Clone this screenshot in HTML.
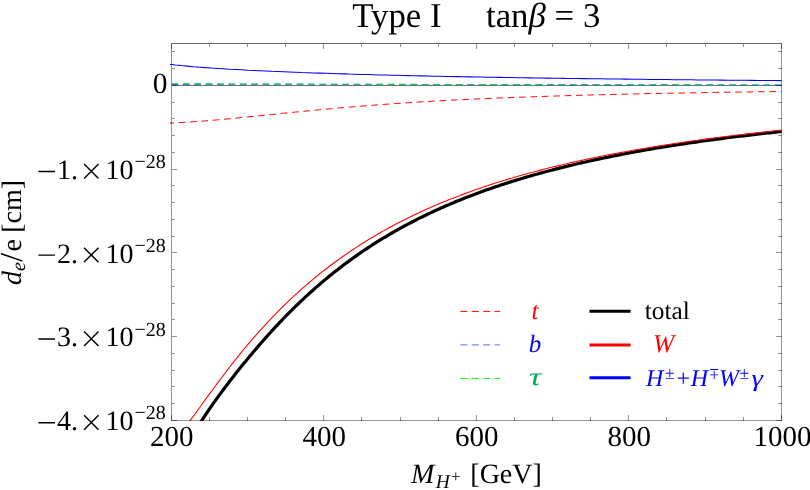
<!DOCTYPE html>
<html><head><meta charset="utf-8"><title>chart</title><style>html,body{margin:0;padding:0;background:#fff}body{width:810px;height:490px;overflow:hidden}svg{will-change:transform;opacity:0.999}text{text-rendering:geometricPrecision}</style></head><body>
<svg width="810" height="490" viewBox="0 0 810 490" style="display:block;font-family:'Liberation Serif',serif">
<rect width="810" height="490" fill="#fff"/>
<defs><clipPath id="c"><rect x="169.9" y="43.5" width="612.1" height="377.4"/></clipPath></defs>
<g stroke="#000" stroke-opacity="0.55" stroke-width="1" fill="none" shape-rendering="crispEdges">
<line x1="171.5" y1="85.5" x2="781.5" y2="85.5"/>
</g>
<g clip-path="url(#c)" fill="none" stroke-linejoin="bevel">
<path d="M169.5,123.15 L175.5,122.78 L181.5,122.44 L187.5,122.10 L193.5,121.72 L199.5,121.31 L205.5,120.86 L211.5,120.38 L217.5,119.86 L223.5,119.31 L229.5,118.74 L235.5,118.16 L241.5,117.56 L247.5,116.95 L253.5,116.33 L259.5,115.72 L265.5,115.10 L271.5,114.48 L277.5,113.87 L283.5,113.26 L289.5,112.66 L295.5,112.07 L301.5,111.48 L307.5,110.91 L313.5,110.34 L319.5,109.78 L325.5,109.23 L331.5,108.69 L337.5,108.16 L343.5,107.64 L349.5,107.13 L355.5,106.63 L361.5,106.14 L367.5,105.66 L373.5,105.19 L379.5,104.74 L385.5,104.29 L391.5,103.86 L397.5,103.44 L403.5,103.04 L409.5,102.64 L415.5,102.26 L421.5,101.89 L427.5,101.53 L433.5,101.18 L439.5,100.84 L445.5,100.52 L451.5,100.20 L457.5,99.89 L463.5,99.60 L469.5,99.31 L475.5,99.03 L481.5,98.76 L487.5,98.50 L493.5,98.25 L499.5,98.00 L505.5,97.77 L511.5,97.53 L517.5,97.31 L523.5,97.09 L529.5,96.88 L535.5,96.67 L541.5,96.47 L547.5,96.27 L553.5,96.08 L559.5,95.90 L565.5,95.72 L571.5,95.54 L577.5,95.37 L583.5,95.20 L589.5,95.04 L595.5,94.88 L601.5,94.73 L607.5,94.58 L613.5,94.43 L619.5,94.29 L625.5,94.15 L631.5,94.01 L637.5,93.88 L643.5,93.75 L649.5,93.63 L655.5,93.50 L661.5,93.38 L667.5,93.27 L673.5,93.15 L679.5,93.04 L685.5,92.93 L691.5,92.83 L697.5,92.72 L703.5,92.62 L709.5,92.52 L715.5,92.42 L721.5,92.33 L727.5,92.24 L733.5,92.15 L739.5,92.06 L745.5,91.97 L751.5,91.89 L757.5,91.80 L763.5,91.72 L769.5,91.64 L775.5,91.57 L781.5,91.49" stroke="#f00" stroke-width="0.98" stroke-dasharray="6.75 4.63" stroke-dashoffset="2.2"/>
<path d="M169.5,84.56 L185.5,84.43 L201.5,84.35 L217.5,84.29 L233.5,84.27 L249.5,84.26 L265.5,84.26 L281.5,84.27 L297.5,84.28 L313.5,84.30 L329.5,84.32 L345.5,84.35 L361.5,84.37 L377.5,84.40 L393.5,84.43 L409.5,84.46 L425.5,84.48 L441.5,84.51 L457.5,84.54 L473.5,84.57 L489.5,84.60 L505.5,84.62 L521.5,84.65 L537.5,84.68 L553.5,84.71 L569.5,84.74 L585.5,84.76 L601.5,84.79 L617.5,84.82 L633.5,84.85 L649.5,84.87 L665.5,84.90 L681.5,84.93 L697.5,84.95 L713.5,84.98 L729.5,85.00 L745.5,85.03 L761.5,85.06 L777.5,85.08 L781.5,85.09" stroke="#0020f0" stroke-width="0.8" stroke-dasharray="6.75 4.63" stroke-dashoffset="9.38"/>
<path d="M169.5,83.68 L185.5,83.78 L201.5,83.85 L217.5,83.91 L233.5,83.96 L249.5,84.01 L265.5,84.06 L281.5,84.10 L297.5,84.14 L313.5,84.18 L329.5,84.22 L345.5,84.26 L361.5,84.30 L377.5,84.33 L393.5,84.37 L409.5,84.40 L425.5,84.44 L441.5,84.47 L457.5,84.50 L473.5,84.54 L489.5,84.57 L505.5,84.60 L521.5,84.63 L537.5,84.66 L553.5,84.69 L569.5,84.72 L585.5,84.75 L601.5,84.78 L617.5,84.80 L633.5,84.83 L649.5,84.86 L665.5,84.89 L681.5,84.92 L697.5,84.94 L713.5,84.97 L729.5,85.00 L745.5,85.02 L761.5,85.05 L777.5,85.07 L781.5,85.08" stroke="#12cc55" stroke-width="1.1" stroke-dasharray="6.75 4.63" stroke-dashoffset="9.38"/>
<path d="M169.5,64.19 L175.5,64.90 L181.5,65.54 L187.5,66.12 L193.5,66.66 L199.5,67.15 L205.5,67.61 L211.5,68.04 L217.5,68.44 L223.5,68.82 L229.5,69.18 L235.5,69.53 L241.5,69.85 L247.5,70.17 L253.5,70.47 L259.5,70.75 L265.5,71.03 L271.5,71.30 L277.5,71.55 L283.5,71.80 L289.5,72.04 L295.5,72.27 L301.5,72.50 L307.5,72.71 L313.5,72.92 L319.5,73.13 L325.5,73.33 L331.5,73.52 L337.5,73.71 L343.5,73.89 L349.5,74.07 L355.5,74.24 L361.5,74.41 L367.5,74.58 L373.5,74.74 L379.5,74.90 L385.5,75.05 L391.5,75.20 L397.5,75.34 L403.5,75.49 L409.5,75.63 L415.5,75.76 L421.5,75.89 L427.5,76.02 L433.5,76.15 L439.5,76.28 L445.5,76.40 L451.5,76.52 L457.5,76.63 L463.5,76.75 L469.5,76.86 L475.5,76.97 L481.5,77.08 L487.5,77.18 L493.5,77.29 L499.5,77.39 L505.5,77.49 L511.5,77.59 L517.5,77.68 L523.5,77.78 L529.5,77.87 L535.5,77.96 L541.5,78.05 L547.5,78.13 L553.5,78.22 L559.5,78.30 L565.5,78.39 L571.5,78.47 L577.5,78.55 L583.5,78.63 L589.5,78.70 L595.5,78.78 L601.5,78.85 L607.5,78.93 L613.5,79.00 L619.5,79.07 L625.5,79.14 L631.5,79.21 L637.5,79.28 L643.5,79.34 L649.5,79.41 L655.5,79.47 L661.5,79.54 L667.5,79.60 L673.5,79.66 L679.5,79.72 L685.5,79.78 L691.5,79.84 L697.5,79.90 L703.5,79.96 L709.5,80.01 L715.5,80.07 L721.5,80.12 L727.5,80.18 L733.5,80.23 L739.5,80.28 L745.5,80.33 L751.5,80.38 L757.5,80.43 L763.5,80.48 L769.5,80.53 L775.5,80.58 L781.5,80.63" stroke="#00f" stroke-width="1.05"/>
<path d="M169.5,491.10 L171.5,484.38 L173.5,478.20 L175.5,472.48 L177.5,467.16 L179.5,462.19 L181.5,457.52 L183.5,453.12 L185.5,448.94 L187.5,444.96 L189.5,441.15 L191.5,437.49 L193.5,433.97 L195.5,430.55 L197.5,427.24 L199.5,424.02 L201.5,420.87 L203.5,417.79 L205.5,414.77 L207.5,411.81 L209.5,408.89 L211.5,406.01 L213.5,403.18 L215.5,400.38 L217.5,397.61 L219.5,394.87 L221.5,392.16 L223.5,389.48 L225.5,386.82 L227.5,384.18 L229.5,381.57 L231.5,378.98 L233.5,376.40 L235.5,373.85 L237.5,371.32 L239.5,368.81 L241.5,366.32 L243.5,363.85 L245.5,361.40 L247.5,358.97 L249.5,356.55 L251.5,354.16 L253.5,351.78 L255.5,349.43 L257.5,347.09 L259.5,344.77 L261.5,342.48 L263.5,340.20 L265.5,337.94 L267.5,335.70 L269.5,333.48 L271.5,331.28 L273.5,329.10 L275.5,326.95 L277.5,324.81 L279.5,322.69 L281.5,320.59 L283.5,318.51 L285.5,316.45 L287.5,314.41 L289.5,312.39 L291.5,310.39 L293.5,308.41 L295.5,306.45 L297.5,304.51 L299.5,302.59 L301.5,300.69 L303.5,298.81 L305.5,296.95 L307.5,295.10 L309.5,293.28 L311.5,291.48 L313.5,289.69 L315.5,287.92 L317.5,286.17 L319.5,284.45 L321.5,282.73 L323.5,281.04 L325.5,279.37 L327.5,277.71 L329.5,276.07 L331.5,274.45 L333.5,272.85 L335.5,271.26 L337.5,269.69 L339.5,268.14 L341.5,266.61 L343.5,265.09 L345.5,263.59 L347.5,262.10 L349.5,260.63 L351.5,259.18 L353.5,257.74 L355.5,256.32 L357.5,254.92 L359.5,253.53 L361.5,252.15 L363.5,250.79 L365.5,249.45 L367.5,248.12 L369.5,246.80 L371.5,245.50 L373.5,244.22 L375.5,242.94 L377.5,241.69 L379.5,240.44 L381.5,239.21 L383.5,237.99 L385.5,236.79 L387.5,235.59 L389.5,234.42 L391.5,233.25 L393.5,232.10 L395.5,230.96 L397.5,229.83 L399.5,228.71 L401.5,227.61 L403.5,226.51 L405.5,225.43 L407.5,224.36 L409.5,223.31 L411.5,222.26 L413.5,221.23 L415.5,220.20 L417.5,219.19 L419.5,218.19 L421.5,217.19 L423.5,216.21 L425.5,215.24 L427.5,214.28 L429.5,213.33 L431.5,212.39 L433.5,211.46 L435.5,210.54 L437.5,209.62 L439.5,208.72 L441.5,207.83 L443.5,206.94 L445.5,206.07 L447.5,205.20 L449.5,204.35 L451.5,203.50 L453.5,202.66 L455.5,201.83 L457.5,201.01 L459.5,200.19 L461.5,199.39 L463.5,198.59 L465.5,197.80 L467.5,197.02 L469.5,196.24 L471.5,195.48 L473.5,194.72 L475.5,193.97 L477.5,193.22 L479.5,192.49 L481.5,191.76 L483.5,191.04 L485.5,190.32 L487.5,189.61 L489.5,188.91 L491.5,188.22 L493.5,187.53 L495.5,186.85 L497.5,186.18 L499.5,185.51 L501.5,184.85 L503.5,184.19 L505.5,183.54 L507.5,182.90 L509.5,182.27 L511.5,181.64 L513.5,181.01 L515.5,180.39 L517.5,179.78 L519.5,179.17 L521.5,178.57 L523.5,177.98 L525.5,177.39 L527.5,176.80 L529.5,176.22 L531.5,175.65 L533.5,175.08 L535.5,174.51 L537.5,173.96 L539.5,173.40 L541.5,172.85 L543.5,172.31 L545.5,171.77 L547.5,171.24 L549.5,170.71 L551.5,170.19 L553.5,169.67 L555.5,169.15 L557.5,168.64 L559.5,168.13 L561.5,167.63 L563.5,167.14 L565.5,166.64 L567.5,166.16 L569.5,165.67 L571.5,165.19 L573.5,164.72 L575.5,164.24 L577.5,163.78 L579.5,163.31 L581.5,162.85 L583.5,162.40 L585.5,161.95 L587.5,161.50 L589.5,161.05 L591.5,160.61 L593.5,160.18 L595.5,159.74 L597.5,159.32 L599.5,158.89 L601.5,158.47 L603.5,158.05 L605.5,157.63 L607.5,157.22 L609.5,156.81 L611.5,156.41 L613.5,156.01 L615.5,155.61 L617.5,155.21 L619.5,154.82 L621.5,154.43 L623.5,154.05 L625.5,153.66 L627.5,153.28 L629.5,152.91 L631.5,152.53 L633.5,152.16 L635.5,151.80 L637.5,151.43 L639.5,151.07 L641.5,150.71 L643.5,150.36 L645.5,150.00 L647.5,149.65 L649.5,149.30 L651.5,148.96 L653.5,148.62 L655.5,148.29 L657.5,147.96 L659.5,147.63 L661.5,147.30 L663.5,146.97 L665.5,146.65 L667.5,146.33 L669.5,146.02 L671.5,145.70 L673.5,145.39 L675.5,145.08 L677.5,144.77 L679.5,144.46 L681.5,144.16 L683.5,143.86 L685.5,143.56 L687.5,143.27 L689.5,142.97 L691.5,142.68 L693.5,142.39 L695.5,142.10 L697.5,141.82 L699.5,141.53 L701.5,141.25 L703.5,140.97 L705.5,140.70 L707.5,140.42 L709.5,140.15 L711.5,139.88 L713.5,139.61 L715.5,139.34 L717.5,139.07 L719.5,138.81 L721.5,138.55 L723.5,138.29 L725.5,138.03 L727.5,137.78 L729.5,137.52 L731.5,137.27 L733.5,137.02 L735.5,136.77 L737.5,136.52 L739.5,136.28 L741.5,136.04 L743.5,135.79 L745.5,135.55 L747.5,135.32 L749.5,135.08 L751.5,134.84 L753.5,134.61 L755.5,134.38 L757.5,134.15 L759.5,133.92 L761.5,133.69 L763.5,133.47 L765.5,133.24 L767.5,133.02 L769.5,132.80 L771.5,132.58 L773.5,132.36 L775.5,132.15 L777.5,131.93 L779.5,131.72 L781.5,131.50" stroke="#000" stroke-width="3.2"/>
<path d="M169.5,445.46 L171.5,443.47 L173.5,441.35 L175.5,439.11 L177.5,436.77 L179.5,434.35 L181.5,431.86 L183.5,429.31 L185.5,426.71 L187.5,424.07 L189.5,421.40 L191.5,418.69 L193.5,415.97 L195.5,413.23 L197.5,410.48 L199.5,407.72 L201.5,404.96 L203.5,402.20 L205.5,399.44 L207.5,396.69 L209.5,393.94 L211.5,391.21 L213.5,388.48 L215.5,385.77 L217.5,383.07 L219.5,380.39 L221.5,377.73 L223.5,375.08 L225.5,372.46 L227.5,369.85 L229.5,367.26 L231.5,364.70 L233.5,362.15 L235.5,359.63 L237.5,357.13 L239.5,354.65 L241.5,352.20 L243.5,349.77 L245.5,347.36 L247.5,344.97 L249.5,342.61 L251.5,340.27 L253.5,337.95 L255.5,335.66 L257.5,333.39 L259.5,331.15 L261.5,328.93 L263.5,326.73 L265.5,324.55 L267.5,322.40 L269.5,320.27 L271.5,318.17 L273.5,316.08 L275.5,314.02 L277.5,311.98 L279.5,309.97 L281.5,307.97 L283.5,306.00 L285.5,304.05 L287.5,302.12 L289.5,300.21 L291.5,298.33 L293.5,296.46 L295.5,294.62 L297.5,292.79 L299.5,290.99 L301.5,289.21 L303.5,287.44 L305.5,285.70 L307.5,283.97 L309.5,282.27 L311.5,280.58 L313.5,278.92 L315.5,277.27 L317.5,275.64 L319.5,274.03 L321.5,272.43 L323.5,270.86 L325.5,269.30 L327.5,267.76 L329.5,266.23 L331.5,264.73 L333.5,263.24 L335.5,261.76 L337.5,260.31 L339.5,258.87 L341.5,257.44 L343.5,256.03 L345.5,254.64 L347.5,253.26 L349.5,251.90 L351.5,250.55 L353.5,249.22 L355.5,247.90 L357.5,246.60 L359.5,245.31 L361.5,244.03 L363.5,242.77 L365.5,241.52 L367.5,240.29 L369.5,239.07 L371.5,237.86 L373.5,236.67 L375.5,235.49 L377.5,234.32 L379.5,233.16 L381.5,232.02 L383.5,230.89 L385.5,229.77 L387.5,228.66 L389.5,227.57 L391.5,226.48 L393.5,225.41 L395.5,224.35 L397.5,223.30 L399.5,222.26 L401.5,221.23 L403.5,220.22 L405.5,219.21 L407.5,218.21 L409.5,217.23 L411.5,216.25 L413.5,215.29 L415.5,214.34 L417.5,213.39 L419.5,212.46 L421.5,211.53 L423.5,210.61 L425.5,209.71 L427.5,208.81 L429.5,207.92 L431.5,207.04 L433.5,206.17 L435.5,205.31 L437.5,204.46 L439.5,203.62 L441.5,202.78 L443.5,201.95 L445.5,201.13 L447.5,200.32 L449.5,199.52 L451.5,198.73 L453.5,197.94 L455.5,197.16 L457.5,196.39 L459.5,195.63 L461.5,194.87 L463.5,194.12 L465.5,193.38 L467.5,192.65 L469.5,191.92 L471.5,191.20 L473.5,190.49 L475.5,189.78 L477.5,189.08 L479.5,188.39 L481.5,187.70 L483.5,187.02 L485.5,186.35 L487.5,185.68 L489.5,185.02 L491.5,184.37 L493.5,183.72 L495.5,183.08 L497.5,182.45 L499.5,181.82 L501.5,181.19 L503.5,180.58 L505.5,179.96 L507.5,179.36 L509.5,178.76 L511.5,178.16 L513.5,177.57 L515.5,176.99 L517.5,176.41 L519.5,175.84 L521.5,175.27 L523.5,174.70 L525.5,174.15 L527.5,173.59 L529.5,173.05 L531.5,172.50 L533.5,171.96 L535.5,171.43 L537.5,170.90 L539.5,170.38 L541.5,169.86 L543.5,169.35 L545.5,168.84 L547.5,168.33 L549.5,167.83 L551.5,167.33 L553.5,166.84 L555.5,166.35 L557.5,165.87 L559.5,165.39 L561.5,164.92 L563.5,164.44 L565.5,163.98 L567.5,163.51 L569.5,163.06 L571.5,162.60 L573.5,162.15 L575.5,161.70 L577.5,161.26 L579.5,160.82 L581.5,160.38 L583.5,159.95 L585.5,159.52 L587.5,159.10 L589.5,158.68 L591.5,158.26 L593.5,157.85 L595.5,157.43 L597.5,157.03 L599.5,156.62 L601.5,156.22 L603.5,155.83 L605.5,155.43 L607.5,155.04 L609.5,154.65 L611.5,154.27 L613.5,153.89 L615.5,153.51 L617.5,153.14 L619.5,152.76 L621.5,152.39 L623.5,152.03 L625.5,151.67 L627.5,151.31 L629.5,150.95 L631.5,150.59 L633.5,150.24 L635.5,149.89 L637.5,149.55 L639.5,149.20 L641.5,148.86 L643.5,148.53 L645.5,148.19 L647.5,147.86 L649.5,147.53 L651.5,147.20 L653.5,146.87 L655.5,146.54 L657.5,146.22 L659.5,145.90 L661.5,145.58 L663.5,145.26 L665.5,144.95 L667.5,144.63 L669.5,144.33 L671.5,144.02 L673.5,143.71 L675.5,143.41 L677.5,143.11 L679.5,142.81 L681.5,142.52 L683.5,142.22 L685.5,141.93 L687.5,141.64 L689.5,141.35 L691.5,141.07 L693.5,140.79 L695.5,140.50 L697.5,140.23 L699.5,139.95 L701.5,139.67 L703.5,139.40 L705.5,139.13 L707.5,138.86 L709.5,138.60 L711.5,138.33 L713.5,138.07 L715.5,137.81 L717.5,137.55 L719.5,137.29 L721.5,137.03 L723.5,136.78 L725.5,136.53 L727.5,136.28 L729.5,136.03 L731.5,135.78 L733.5,135.54 L735.5,135.29 L737.5,135.05 L739.5,134.81 L741.5,134.57 L743.5,134.34 L745.5,134.10 L747.5,133.87 L749.5,133.64 L751.5,133.41 L753.5,133.18 L755.5,132.95 L757.5,132.73 L759.5,132.50 L761.5,132.28 L763.5,132.06 L765.5,131.84 L767.5,131.62 L769.5,131.41 L771.5,131.19 L773.5,130.98 L775.5,130.77 L777.5,130.56 L779.5,130.35 L781.5,130.14" stroke="#f00" stroke-width="1.08"/>
</g>
<g stroke="#000" stroke-opacity="0.42" stroke-width="1" fill="none" shape-rendering="crispEdges">
<rect x="171.5" y="43.5" width="610.0" height="377.0"/>
<line x1="171.5" y1="43.5" x2="781.5" y2="43.5" stroke-opacity="0.3"/>
<line x1="171.5" y1="420.5" x2="171.5" y2="414.9"/>
<line x1="171.5" y1="43.5" x2="171.5" y2="49.1"/>
<line x1="209.5" y1="420.5" x2="209.5" y2="416.8"/>
<line x1="209.5" y1="43.5" x2="209.5" y2="47.2"/>
<line x1="247.5" y1="420.5" x2="247.5" y2="416.8"/>
<line x1="247.5" y1="43.5" x2="247.5" y2="47.2"/>
<line x1="285.5" y1="420.5" x2="285.5" y2="416.8"/>
<line x1="285.5" y1="43.5" x2="285.5" y2="47.2"/>
<line x1="323.5" y1="420.5" x2="323.5" y2="414.9"/>
<line x1="323.5" y1="43.5" x2="323.5" y2="49.1"/>
<line x1="361.5" y1="420.5" x2="361.5" y2="416.8"/>
<line x1="361.5" y1="43.5" x2="361.5" y2="47.2"/>
<line x1="400.5" y1="420.5" x2="400.5" y2="416.8"/>
<line x1="400.5" y1="43.5" x2="400.5" y2="47.2"/>
<line x1="438.5" y1="420.5" x2="438.5" y2="416.8"/>
<line x1="438.5" y1="43.5" x2="438.5" y2="47.2"/>
<line x1="476.5" y1="420.5" x2="476.5" y2="414.9"/>
<line x1="476.5" y1="43.5" x2="476.5" y2="49.1"/>
<line x1="514.5" y1="420.5" x2="514.5" y2="416.8"/>
<line x1="514.5" y1="43.5" x2="514.5" y2="47.2"/>
<line x1="552.5" y1="420.5" x2="552.5" y2="416.8"/>
<line x1="552.5" y1="43.5" x2="552.5" y2="47.2"/>
<line x1="590.5" y1="420.5" x2="590.5" y2="416.8"/>
<line x1="590.5" y1="43.5" x2="590.5" y2="47.2"/>
<line x1="628.5" y1="420.5" x2="628.5" y2="414.9"/>
<line x1="628.5" y1="43.5" x2="628.5" y2="49.1"/>
<line x1="666.5" y1="420.5" x2="666.5" y2="416.8"/>
<line x1="666.5" y1="43.5" x2="666.5" y2="47.2"/>
<line x1="705.5" y1="420.5" x2="705.5" y2="416.8"/>
<line x1="705.5" y1="43.5" x2="705.5" y2="47.2"/>
<line x1="743.5" y1="420.5" x2="743.5" y2="416.8"/>
<line x1="743.5" y1="43.5" x2="743.5" y2="47.2"/>
<line x1="781.5" y1="420.5" x2="781.5" y2="414.9"/>
<line x1="781.5" y1="43.5" x2="781.5" y2="49.1"/>
<line x1="171.5" y1="51.5" x2="175.2" y2="51.5"/>
<line x1="781.5" y1="51.5" x2="777.8" y2="51.5"/>
<line x1="171.5" y1="68.5" x2="175.2" y2="68.5"/>
<line x1="781.5" y1="68.5" x2="777.8" y2="68.5"/>
<line x1="171.5" y1="85.5" x2="177.1" y2="85.5"/>
<line x1="781.5" y1="85.5" x2="775.9" y2="85.5"/>
<line x1="171.5" y1="102.5" x2="175.2" y2="102.5"/>
<line x1="781.5" y1="102.5" x2="777.8" y2="102.5"/>
<line x1="171.5" y1="118.5" x2="175.2" y2="118.5"/>
<line x1="781.5" y1="118.5" x2="777.8" y2="118.5"/>
<line x1="171.5" y1="135.5" x2="175.2" y2="135.5"/>
<line x1="781.5" y1="135.5" x2="777.8" y2="135.5"/>
<line x1="171.5" y1="152.5" x2="175.2" y2="152.5"/>
<line x1="781.5" y1="152.5" x2="777.8" y2="152.5"/>
<line x1="171.5" y1="169.5" x2="177.1" y2="169.5"/>
<line x1="781.5" y1="169.5" x2="775.9" y2="169.5"/>
<line x1="171.5" y1="185.5" x2="175.2" y2="185.5"/>
<line x1="781.5" y1="185.5" x2="777.8" y2="185.5"/>
<line x1="171.5" y1="202.5" x2="175.2" y2="202.5"/>
<line x1="781.5" y1="202.5" x2="777.8" y2="202.5"/>
<line x1="171.5" y1="219.5" x2="175.2" y2="219.5"/>
<line x1="781.5" y1="219.5" x2="777.8" y2="219.5"/>
<line x1="171.5" y1="236.5" x2="175.2" y2="236.5"/>
<line x1="781.5" y1="236.5" x2="777.8" y2="236.5"/>
<line x1="171.5" y1="252.5" x2="177.1" y2="252.5"/>
<line x1="781.5" y1="252.5" x2="775.9" y2="252.5"/>
<line x1="171.5" y1="269.5" x2="175.2" y2="269.5"/>
<line x1="781.5" y1="269.5" x2="777.8" y2="269.5"/>
<line x1="171.5" y1="286.5" x2="175.2" y2="286.5"/>
<line x1="781.5" y1="286.5" x2="777.8" y2="286.5"/>
<line x1="171.5" y1="303.5" x2="175.2" y2="303.5"/>
<line x1="781.5" y1="303.5" x2="777.8" y2="303.5"/>
<line x1="171.5" y1="319.5" x2="175.2" y2="319.5"/>
<line x1="781.5" y1="319.5" x2="777.8" y2="319.5"/>
<line x1="171.5" y1="336.5" x2="177.1" y2="336.5"/>
<line x1="781.5" y1="336.5" x2="775.9" y2="336.5"/>
<line x1="171.5" y1="353.5" x2="175.2" y2="353.5"/>
<line x1="781.5" y1="353.5" x2="777.8" y2="353.5"/>
<line x1="171.5" y1="370.5" x2="175.2" y2="370.5"/>
<line x1="781.5" y1="370.5" x2="777.8" y2="370.5"/>
<line x1="171.5" y1="386.5" x2="175.2" y2="386.5"/>
<line x1="781.5" y1="386.5" x2="777.8" y2="386.5"/>
<line x1="171.5" y1="403.5" x2="175.2" y2="403.5"/>
<line x1="781.5" y1="403.5" x2="777.8" y2="403.5"/>
<line x1="171.5" y1="420.5" x2="177.1" y2="420.5"/>
<line x1="781.5" y1="420.5" x2="775.9" y2="420.5"/>
</g>
<g fill="#000">
<text x="352.2" y="26.7" font-size="34.8" xml:space="preserve">Type I</text>
<text x="486" y="26.7" font-size="34.8" xml:space="preserve">tan<tspan font-style="italic">β</tspan> = 3</text>
<text x="171.8" y="446.4" font-size="29" text-anchor="middle">200</text>
<text x="324.3" y="446.4" font-size="29" text-anchor="middle">400</text>
<text x="476.8" y="446.4" font-size="29" text-anchor="middle">600</text>
<text x="629.3" y="446.4" font-size="29" text-anchor="middle">800</text>
<text x="782.6" y="446.4" font-size="29" text-anchor="middle">1000</text>
<text x="160.1" y="92.9" font-size="29.5" text-anchor="middle">0</text>
<text y="178.8" font-size="28"><tspan x="57">1.</tspan><tspan x="105.5">10</tspan><tspan x="134.5" dy="-10.8" font-size="20">−28</tspan></text>
<path d="M38.4,171.4 H55 M84.1,164.0 l14.4,14.4 M84.1,178.4 l14.4,-14.4" stroke="#000" stroke-width="1.45" fill="none"/>
<text y="262.6" font-size="28"><tspan x="57">2.</tspan><tspan x="105.5">10</tspan><tspan x="134.5" dy="-10.8" font-size="20">−28</tspan></text>
<path d="M38.4,255.1 H55 M84.1,247.8 l14.4,14.4 M84.1,262.1 l14.4,-14.4" stroke="#000" stroke-width="1.45" fill="none"/>
<text y="346.3" font-size="28"><tspan x="57">3.</tspan><tspan x="105.5">10</tspan><tspan x="134.5" dy="-10.8" font-size="20">−28</tspan></text>
<path d="M38.4,338.9 H55 M84.1,331.5 l14.4,14.4 M84.1,345.9 l14.4,-14.4" stroke="#000" stroke-width="1.45" fill="none"/>
<text y="430.1" font-size="28"><tspan x="57">4.</tspan><tspan x="105.5">10</tspan><tspan x="134.5" dy="-10.8" font-size="20">−28</tspan></text>
<path d="M38.4,422.7 H55 M84.1,415.3 l14.4,14.4 M84.1,429.7 l14.4,-14.4" stroke="#000" stroke-width="1.45" fill="none"/>
<g transform="translate(21.0,285) rotate(-90)"><text font-size="28" xml:space="preserve"><tspan font-style="italic">d</tspan><tspan font-style="italic" font-size="20" dy="4">e</tspan><tspan dy="-3.2" dx="0.3" font-size="32">/</tspan><tspan dy="-0.8" dx="1.5">e</tspan><tspan dx="-0.8"> [cm]</tspan></text></g>
<text x="411" y="483" font-size="28" xml:space="preserve"><tspan font-style="italic">M</tspan><tspan font-style="italic" font-size="19.5" dy="4.6" dx="1.5">H</tspan><tspan font-size="17" dy="-5.8" dx="1.2">+</tspan><tspan dy="1.2" dx="9.6">[GeV]</tspan></text>
</g>
<g fill="none">
<line x1="460.4" y1="311.4" x2="500" y2="311.4" stroke="#f00" stroke-width="1" stroke-dasharray="7 4.4"/>
<line x1="460.4" y1="344.9" x2="500" y2="344.9" stroke="#66f" stroke-width="1" stroke-dasharray="7 4.4"/>
<line x1="460.4" y1="378.4" x2="500" y2="378.4" stroke="#0f0" stroke-width="1" stroke-dasharray="7 4.4"/>
<line x1="589.5" y1="311.2" x2="630.6" y2="311.2" stroke="#000" stroke-width="3"/>
<line x1="589.5" y1="344.9" x2="630.6" y2="344.9" stroke="#f00" stroke-width="3"/>
<line x1="589.5" y1="377.8" x2="630.6" y2="377.8" stroke="#00f" stroke-width="3"/>
</g>
<g font-size="25">
<text x="535" y="318.6" fill="#f00" font-style="italic" text-anchor="middle">t</text>
<text x="535" y="352" fill="#00f" font-style="italic" text-anchor="middle">b</text>
<text x="0" y="385.2" fill="#00b050" font-style="italic" text-anchor="middle" transform="translate(535.2,0) scale(1.38,1)">τ</text>
<text x="644.8" y="318.6" fill="#000" font-size="25.3">total</text>
<text x="652.9" y="351.6" fill="#f00" font-style="italic" font-size="25.5">W</text>
<g fill="#00f" font-style="italic" text-anchor="middle" font-size="24">
<text x="654.75" y="385.6">H</text>
<text x="699.5" y="385.6">H</text>
<text x="729.0" y="385.6">W</text>
<text x="0" y="385.6" transform="translate(757.2,0) scale(1.2,1)">γ</text>
<text x="683.3" y="385.6" font-style="normal" font-size="24">+</text>
<text x="669.75" y="379" font-style="normal" font-size="17.5">±</text>
<text x="744.35" y="379" font-style="normal" font-size="17.5">±</text>
<text x="714.15" y="379" font-style="normal" font-size="17.5" transform="rotate(180 714.15 374)">±</text>
</g>
</g>
</svg>
</body></html>
